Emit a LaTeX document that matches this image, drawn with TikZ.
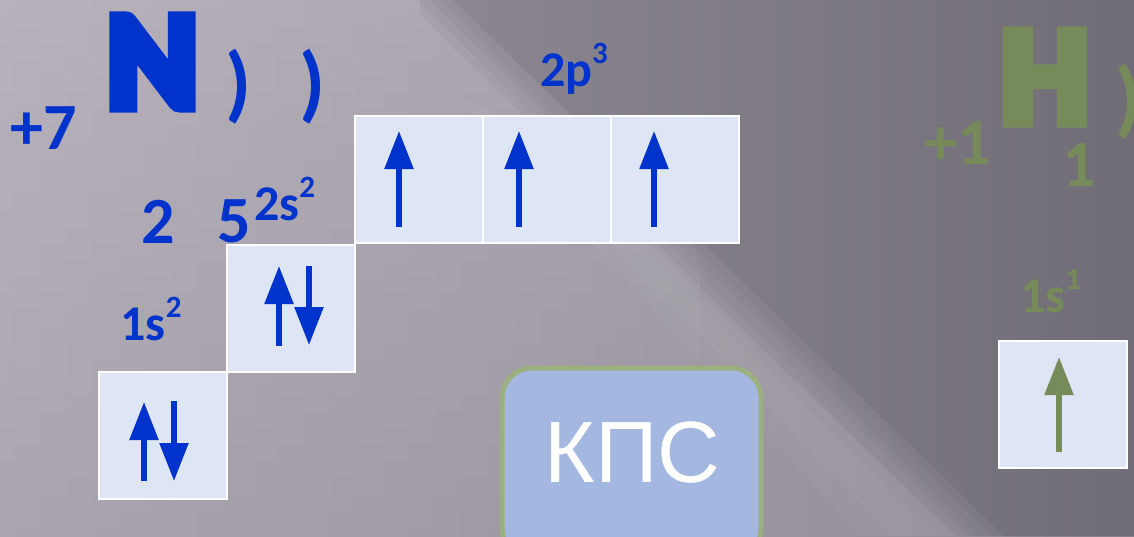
\documentclass[tikz,border=0pt]{standalone}
\usepackage{fontspec}
\setmainfont{Carlito}
\newfontfamily\arialf{Liberation Sans}
\newfontfamily\heavyf{Carlito Bold}[FakeBold=9]
\usetikzlibrary{arrows.meta}
\definecolor{nblue}{HTML}{0033CC}
\definecolor{hgreen}{HTML}{778B5A}
\definecolor{orbfill}{HTML}{DEE5F4}
\definecolor{bgL}{HTML}{B8B2BC}
\definecolor{bgM}{HTML}{97929C}
\definecolor{bgD}{HTML}{8C8792}
\definecolor{bgR}{HTML}{716D76}
\definecolor{kfill}{HTML}{A3B7E1}
\definecolor{kdraw}{HTML}{9BB080}
\newcommand\orbl[2]{\fontsize{50}{50}\selectfont\bfseries #1\raisebox{23pt}{\fontsize{31}{31}\selectfont #2}}
\tikzset{
  orb/.style={fill=orbfill, draw=white, line width=2pt, minimum width=128pt, minimum height=127pt, inner sep=0pt},
  spin/.style={line width=5.5pt, -{Triangle[length=38pt,width=28pt]}},
  txt/.style={inner sep=0pt, anchor=center},
  big/.style={txt, font=\heavyf\fontsize{137}{137}\selectfont},
  par/.style={txt, font=\fontsize{84}{84}\selectfont\bfseries},
  num/.style={txt, font=\fontsize{66}{66}\selectfont\bfseries},
}
\begin{document}
\begin{tikzpicture}[x=1pt,y=-1pt]
\useasboundingbox (0,0) rectangle (1134,536);
\clip (0,0) rectangle (1134,536);
% background
\shade[left color=bgL, right color=bgD] (0,0) rectangle (1134,536);
\shade[top color=bgL, bottom color=bgM, opacity=0.4] (0,0) rectangle (700,536);
\foreach \d/\o in {0/0.2,12/0.2,24/0.25,36/0.3,48/1} {
  \begin{scope}
    \clip (405+\d,0) -- (1134,0) -- (1134,536) -- (956+\d,536) -- cycle;
    \shade[left color=bgD, right color=bgR, opacity=\o] (420,0) rectangle (1134,536);
  \end{scope}
}
\fill[white, opacity=0.03] (860,536) -- (956,536) -- (520,120) -- (460,100) -- cycle;
\fill[white, opacity=0.03] (890,536) -- (940,536) -- (520,130) -- (490,115) -- cycle;

% nitrogen
\node[big, text=nblue] (N) at (152.5,62) {N};
\node[par, text=nblue] (p1) at (239,86.5) {)};
\node[par, text=nblue] (p2) at (312.5,86.5) {)};
\node[num, text=nblue] (z) at (43.5,128) {+7};
\node[num, text=nblue] (e1) at (158.5,221.5) {2};
\node[num, text=nblue] (e2) at (234,221.5) {5};
\node[txt, text=nblue] (l2s) at (284.5,199) {\orbl{2s}{2}};
\node[txt, text=nblue] (l1s) at (151,319.5) {\orbl{1s}{2}};
\node[txt, text=nblue] (l2p) at (574,69) {\orbl{2p}{3}};

% orbitals
\node[orb] (s1) at (162.5,435.5) {};
\node[orb] (s2) at (291,308) {};
\node[orb] (pa) at (418.5,179.5) {};
\node[orb] (pb) at (547,179.5) {};
\node[orb] (pc) at (675,179.5) {};

\draw[spin, nblue] (144,481) -- (144,402);
\draw[spin, nblue] (174,401) -- (174,481);
\draw[spin, nblue] (279,346) -- (279,266);
\draw[spin, nblue] (309,266) -- (309,345);
\draw[spin, nblue] (399,227) -- (399,131);
\draw[spin, nblue] (519,227) -- (519,131);
\draw[spin, nblue] (654,227) -- (654,131);

% hydrogen
\node[big, text=hgreen] (H) at (1045,77) {H};
\node[par, text=hgreen] (p3) at (1129,101.5) {)};
\node[num, text=hgreen] (zh) at (958,143.5) {+1};
\node[num, text=hgreen] (eh) at (1079,165.5) {1};
\node[txt, text=hgreen] (l1h) at (1050.5,291.5) {\orbl{1s}{1}};
\node[orb] (h1) at (1062.5,404) {};
\draw[spin, hgreen] (1059,452) -- (1059,357);

% KPS box
\node[draw=kdraw, fill=kfill, line width=5pt, rounded corners=30pt, minimum width=259pt, minimum height=190pt] (k) at (631.5,463) {};
\node[txt, text=white, font=\arialf\fontsize{87}{87}\selectfont] (kt) at (632.5,453) {КПС};
\end{tikzpicture}
\end{document}
